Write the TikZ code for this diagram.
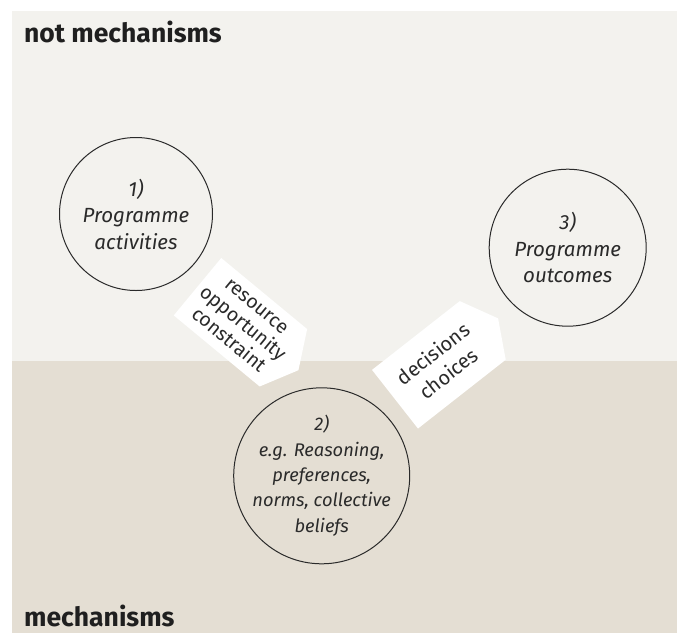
\documentclass[tikz,border=0pt]{standalone}
\usepackage{fontspec}
\setmainfont{Fira Sans}
\usetikzlibrary{calc}
\definecolor{toppanel}{HTML}{F3F2EE}
\definecolor{botpanel}{HTML}{E4DED3}
\definecolor{ink}{HTML}{2A2A2A}
\begin{document}
\begin{tikzpicture}[x=1pt,y=-1pt,
  circ/.style={circle, draw=ink, line width=1pt, minimum size=#1, inner sep=0pt},
  ctext/.style={align=center, text=ink, inner sep=0pt, font=\itshape\fontsize{20.5}{26.5}\selectfont},
  paneltitle/.style={anchor=base west, text=black!88, inner sep=0pt, font=\bfseries\fontsize{26.5}{28}\selectfont},
  arrowtext/.style={align=center, text=ink, inner sep=0pt, font=\fontsize{19.5}{22}\selectfont},
  arrowshape/.style={fill=white, draw=none}
]
\useasboundingbox (0,0) rectangle (677,633);
\fill[toppanel] (12,11) rectangle (677,361);
\fill[botpanel] (12,361) rectangle (677,633);

\node[paneltitle] (t1) at (24,42) {not mechanisms};
\node[paneltitle] (t2) at (24,626) {mechanisms};

\node[circ=153pt] (c1) at (136,214) {};
\node[circ=157pt] (c3) at (567.7,247.7) {};
\node[circ=176pt] (c2) at (321.7,475.8) {};

\node[ctext] (l1) at (c1.center) {1)\\Programme\\activities};
\node[ctext] (l3) at (c3.center) {3)\\Programme\\outcomes};
\node[ctext, font=\itshape\fontsize{18.3}{25.3}\selectfont] (l2) at (c2.center) {2)\\e.g. Reasoning,\\preferences,\\norms, collective\\beliefs};

\begin{scope}[shift={(197.5,286.7)}, rotate=-39.6]
  \fill[arrowshape] (0,-37.25) -- (111.5,-37.25) -- (131,0) -- (111.5,37.25) -- (0,37.25) -- cycle;
  \coordinate (a1c) at (58,0);
\end{scope}
\node[arrowtext, rotate=-39.6] (a1) at (a1c) {resource\\opportunity\\constraint};

\begin{scope}[shift={(395,399.2)}, rotate=38.1]
  \fill[arrowshape] (0,-37.25) -- (111.5,-37.25) -- (131,0) -- (111.5,37.25) -- (0,37.25) -- cycle;
  \coordinate (a2c) at (58,0);
\end{scope}
\node[arrowtext, rotate=38.1, font=\fontsize{20}{25}\selectfont] (a2) at (a2c) {decisions\\choices};
\end{tikzpicture}
\end{document}
